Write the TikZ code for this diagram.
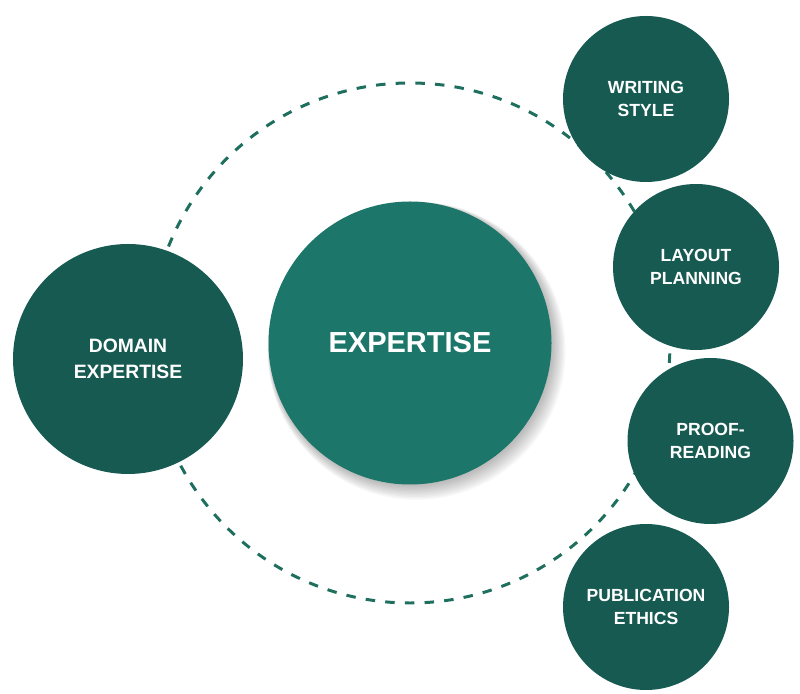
\documentclass[tikz,border=0pt]{standalone}
\usepackage{fontspec}
\setmainfont{Liberation Sans}
\usetikzlibrary{calc}
\definecolor{deepteal}{HTML}{165A51}
\definecolor{hubteal}{HTML}{1C7669}
\definecolor{ringteal}{HTML}{1F6F5F}

\begin{document}
\begin{tikzpicture}[
    topic/.style={circle, fill=deepteal, text=white, align=center, inner sep=0pt, minimum size=3.32cm, font=\bfseries\fontsize{10}{13.6}\selectfont},
    bigtopic/.style={topic, minimum size=4.6cm, font=\bfseries\fontsize{11}{14.7}\selectfont},
    hub/.style={circle, fill=hubteal, text=white, inner sep=0pt, minimum size=5.66cm, font=\bfseries\fontsize{16.5}{20}\selectfont},
    ring/.style={draw=ringteal, line width=1.7pt, dash pattern=on 5.4pt off 5.8pt}
]
\useasboundingbox (0,0) rectangle (16,13.86);
\coordinate (mid) at (8.2,7.0);

% dashed orbit behind everything
\draw[ring] (mid) circle (5.2cm);

% soft shadow under the hub
\foreach \k in {1,...,12}
  \fill[black, opacity=0.028] ($(mid)+(0.011*\k,-0.013*\k)$) circle (2.8+0.015*\k);

\node[hub] (hub) at (mid) {EXPERTISE};
\node[bigtopic] (domain) at (2.56,6.68) {DOMAIN\\EXPERTISE};
\node[topic] (writing) at (12.92,11.88) {WRITING\\STYLE};
\node[topic] (layout) at (13.92,8.52) {LAYOUT\\PLANNING};
\node[topic] (proof) at (14.21,5.04) {PROOF-\\READING};
\node[topic] (ethics) at (12.92,1.72) {PUBLICATION\\ETHICS};
\end{tikzpicture}
\end{document}
